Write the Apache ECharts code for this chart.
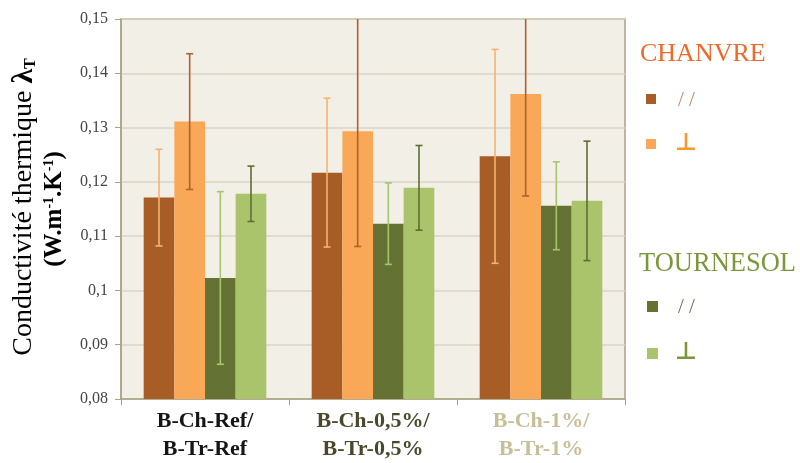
<!DOCTYPE html>
<html><head><meta charset="utf-8">
<script src="https://cdn.jsdelivr.net/npm/echarts@6/dist/echarts.min.js"></script>
<style>html,body{margin:0;padding:0;background:#fff}#c{width:800px;height:463px}</style>
</head><body><div id="c"></div>
<script>
const categories = ['B-Ch-Ref/\nB-Tr-Ref', 'B-Ch-0,5%/\nB-Tr-0,5%', 'B-Ch-1%/\nB-Tr-1%'];
const categoryColors = ['#151515', '#4B482C', '#C8BE9A'];
const chanvrePara = [0.1171, 0.1217, 0.1247];
const chanvrePerp = [0.1311, 0.1293, 0.1362];
const tournesolPara = [0.1023, 0.1123, 0.1156];
const tournesolPerp = [0.1178, 0.1189, 0.1165];
const chanvreParaErr = [0.0089, 0.0137, 0.0197];
const chanvrePerpErr = [0.0125, 0.0212, 0.0188];
const tournesolParaErr = [0.0159, 0.0075, 0.0081];
const tournesolPerpErr = [0.0051, 0.0078, 0.0110];
const yMin = 0.08, yMax = 0.15, yStep = 0.01;

const FONT = '"Liberation Serif", "DejaVu Serif", serif';
const barColors = ['#A85D26', '#F9A857', '#647334', '#AAC46B'];
const errColors = ['#F7B273', '#B0612C', '#A9C46E', '#5E6E30'];
const CAT_GAP = 0.27;

const values = [chanvrePara, chanvrePerp, tournesolPara, tournesolPerp];
const errs = [chanvreParaErr, chanvrePerpErr, tournesolParaErr, tournesolPerpErr];

function errRender(idx){
  return function(params, api){
    const c = api.value(0);
    const lo = api.coord([c, api.value(1)]);
    const hi = api.coord([c, api.value(2)]);
    const band = api.size([1, 0])[0];
    const gw = band * (1 - CAT_GAP);
    const bw = gw / 4;
    const x = lo[0] - gw / 2 + bw * (idx + 0.5);
    const cap = 3.5;
    const st = {stroke: errColors[idx], lineWidth: 1.6};
    return {type: 'group', children: [
      {type: 'line', shape: {x1: x, y1: hi[1], x2: x, y2: lo[1]}, style: st},
      {type: 'line', shape: {x1: x - cap, y1: hi[1], x2: x + cap, y2: hi[1]}, style: st},
      {type: 'line', shape: {x1: x - cap, y1: lo[1], x2: x + cap, y2: lo[1]}, style: st}
    ]};
  };
}

const series = [];
values.forEach((v, i) => {
  series.push({type: 'bar', data: v, barGap: '0%', barCategoryGap: (CAT_GAP*100)+'%',
    itemStyle: {color: barColors[i]}, z: 2});
});
errs.forEach((e, i) => {
  series.push({type: 'custom', clip: true, z: 3,
    data: e.map((d, k) => [k, values[i][k] - d, values[i][k] + d]),
    renderItem: errRender(i)});
});

const chart = echarts.init(document.getElementById('c'));
chart.setOption({
  animation: false,
  backgroundColor: '#ffffff',
  grid: {left: 121, right: 175, top: 19, bottom: 63, show: true,
    backgroundColor: '#F2EFE7', borderColor: '#A9A385', borderWidth: 1.5},
  xAxis: {type: 'category',
    data: categories.map((c, i) => ({value: c, textStyle: {color: categoryColors[i]}})),
    axisLine: {lineStyle: {color: '#A9A385', width: 1.5}},
    axisTick: {show: true, length: 6, lineStyle: {color: '#A9A385'}},
    axisLabel: {fontFamily: FONT, fontSize: 22, fontWeight: 'bold', lineHeight: 28, margin: 8}
  },
  yAxis: {type: 'value', min: yMin, max: yMax, interval: yStep,
    axisLine: {show: true, lineStyle: {color: '#A9A385', width: 1.5}},
    axisTick: {show: true, length: 6, lineStyle: {color: '#A9A385'}},
    splitLine: {lineStyle: {color: '#DAD5C3', width: 1.5}},
    axisLabel: {fontFamily: FONT, fontSize: 16, color: '#444', margin: 13,
      formatter: v => String(Math.round(v * 100) / 100).replace('.', ',')}
  },
  series: series,
  graphic: [
    {type: 'text', x: 24, y: 207, rotation: Math.PI / 2,
      style: {text: '{a|Conductivité thermique }{b|λ}{s|T}', align: 'center', verticalAlign: 'middle',
        rich: {a: {fontFamily: FONT, fontSize: 28, color: '#4B482C'},
               b: {fontFamily: FONT, fontSize: 30, fontWeight: 'bold', color: '#4B482C'},
               s: {fontFamily: FONT, fontSize: 16, fontWeight: 'bold', color: '#4B482C', verticalAlign: 'bottom', padding: [10,0,0,0]}}}},
    {type: 'text', x: 55, y: 209, rotation: Math.PI / 2,
      style: {text: '{a|(W.m}{p|-1}{a|.K}{p|-1}{a|)}', align: 'center', verticalAlign: 'middle',
        rich: {a: {fontFamily: FONT, fontSize: 25, fontWeight: 'bold', color: '#4B482C'},
               p: {fontFamily: FONT, fontSize: 14, fontWeight: 'bold', color: '#4B482C', verticalAlign: 'top', padding: [0,0,9,0]}}}},
    {type: 'text', x: 640, y: 54, style: {text: 'CHANVRE', fontFamily: FONT, fontSize: 26, fill: '#EE6A2C', verticalAlign: 'middle'}},
    {type: 'rect', shape: {x: 646, y: 94, width: 10, height: 10}, style: {fill: barColors[0]}},
    {type: 'text', x: 678, y: 100, style: {text: '/ /', fontFamily: FONT, fontSize: 21, fill: '#C4876A', verticalAlign: 'middle'}},
    {type: 'rect', shape: {x: 646, y: 139, width: 10, height: 10}, style: {fill: barColors[1]}},
    {type: 'text', x: 675, y: 144, style: {text: '⊥', fontFamily: '"DejaVu Sans", sans-serif', fontSize: 24, fontWeight: 'bold', fill: '#F79A2B', verticalAlign: 'middle'}},
    {type: 'text', x: 639, y: 264, style: {text: 'TOURNESOL', fontFamily: FONT, fontSize: 26.5, fill: '#7A983A', verticalAlign: 'middle'}},
    {type: 'rect', shape: {x: 647, y: 301, width: 11, height: 11}, style: {fill: barColors[2]}},
    {type: 'text', x: 678, y: 307, style: {text: '/ /', fontFamily: FONT, fontSize: 21, fill: '#6E6E5E', verticalAlign: 'middle'}},
    {type: 'rect', shape: {x: 647, y: 348, width: 11, height: 11}, style: {fill: barColors[3]}},
    {type: 'text', x: 675, y: 353, style: {text: '⊥', fontFamily: '"DejaVu Sans", sans-serif', fontSize: 24, fontWeight: 'bold', fill: '#7A983A', verticalAlign: 'middle'}}
  ]
});
</script></body></html>
